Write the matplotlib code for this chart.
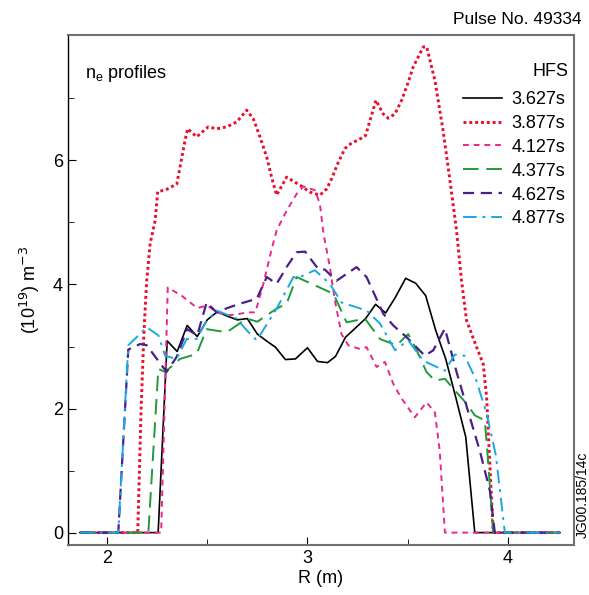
import matplotlib
matplotlib.use("Agg")
import matplotlib.pyplot as plt
from matplotlib.ticker import FixedLocator

plt.rcParams["font.family"] = ["Liberation Sans", "DejaVu Sans"]

# radius (m) and density (1e19 m^-3)
r_3627 = [1.865, 2.255, 2.30, 2.35, 2.40, 2.45, 2.50, 2.55, 2.60, 2.65, 2.70, 2.75, 2.80, 2.84,
          2.89, 2.94, 3.00, 3.05, 3.10, 3.14, 3.19, 3.24, 3.29, 3.34, 3.39, 3.44, 3.49, 3.54,
          3.59, 3.64, 3.69, 3.74, 3.79, 3.835, 4.26]
n_3627 = [0, 0, 3.09, 2.92, 3.34, 3.16, 3.43, 3.56, 3.49, 3.43, 3.45, 3.20, 3.08, 2.99,
          2.79, 2.80, 2.98, 2.76, 2.74, 2.84, 3.15, 3.30, 3.45, 3.68, 3.54, 3.80, 4.10, 4.02,
          3.82, 3.26, 2.80, 2.18, 1.54, 0, 0]

r_3877 = [1.865, 2.153, 2.17, 2.185, 2.198, 2.215, 2.24, 2.253, 2.29, 2.348, 2.364, 2.389, 2.402,
          2.447, 2.505, 2.547, 2.597, 2.647, 2.697, 2.73, 2.763, 2.797, 2.821, 2.846, 2.896,
          2.963, 3.012, 3.062, 3.096, 3.12, 3.154, 3.187, 3.22, 3.254, 3.29, 3.31, 3.342,
          3.378, 3.403, 3.437, 3.47, 3.503, 3.528, 3.578, 3.595, 3.636, 3.677, 3.711, 3.744,
          3.769, 3.794, 3.844, 3.877, 3.894, 3.91, 3.927, 4.26]
n_3877 = [0, 0, 2.0, 3.3, 4.06, 4.66, 5.03, 5.50, 5.52, 5.62, 5.89, 6.32, 6.51,
          6.38, 6.54, 6.51, 6.54, 6.62, 6.81, 6.67, 6.38, 6.05, 5.73, 5.44, 5.73,
          5.60, 5.49, 5.44, 5.54, 5.70, 5.97, 6.19, 6.28, 6.33, 6.40, 6.62, 6.97,
          6.75, 6.68, 6.75, 6.97, 7.26, 7.51, 7.83, 7.83, 7.29, 6.48, 5.68, 4.87,
          4.06, 3.42, 2.99, 2.72, 2.18, 1.11, 0, 0]

r_4127 = [1.865, 2.27, 2.303, 2.372, 2.45, 2.50, 2.55, 2.60, 2.65, 2.70, 2.74, 2.78, 2.82, 2.846,
          2.896, 2.946, 2.98, 3.037, 3.062, 3.08, 3.112, 3.137, 3.17, 3.204, 3.262, 3.295,
          3.345, 3.387, 3.428, 3.47, 3.536, 3.594, 3.636, 3.66, 3.686, 4.26]
n_4127 = [0, 0, 3.95, 3.82, 3.62, 3.66, 3.55, 3.50, 3.52, 3.55, 3.55, 4.01, 4.55, 4.87,
          5.19, 5.46, 5.58, 5.52, 5.30, 4.82, 4.28, 3.74, 3.20, 3.02, 2.96, 2.99,
          2.67, 2.75, 2.40, 2.16, 1.86, 2.10, 1.94, 1.32, 0, 0]

r_4377 = [1.865, 2.206, 2.256, 2.29, 2.364, 2.447, 2.497, 2.597, 2.697, 2.75, 2.846, 2.896,
          2.946, 3.13, 3.195, 3.287, 3.362, 3.445, 3.503, 3.545, 3.594, 3.636, 3.686,
          3.736, 3.794, 3.835, 3.885, 3.90, 3.927, 4.26]
n_4377 = [0, 0, 2.64, 2.59, 2.80, 2.88, 3.28, 3.23, 3.45, 3.40, 3.61, 3.69,
          4.12, 3.85, 3.39, 3.45, 3.12, 3.02, 3.20, 2.94, 2.59, 2.45, 2.48,
          2.29, 2.08, 1.89, 1.81, 1.21, 0, 0]

r_4627 = [1.865, 2.056, 2.106, 2.165, 2.198, 2.297, 2.347, 2.40, 2.45, 2.497, 2.547, 2.60,
          2.663, 2.747, 2.797, 2.846, 2.90, 2.946, 2.988, 3.054, 3.087, 3.145, 3.195, 3.245,
          3.295, 3.378, 3.428, 3.495, 3.586, 3.628, 3.686, 3.744, 3.803, 3.86, 3.91, 3.935, 4.26]
n_4627 = [0, 0, 2.95, 3.04, 3.02, 2.59, 2.83, 3.28, 3.18, 3.71, 3.55, 3.62,
          3.69, 3.77, 4.12, 4.01, 4.30, 4.52, 4.53, 4.25, 4.24, 4.06, 4.17, 4.28,
          4.12, 3.53, 3.34, 3.15, 2.85, 2.94, 3.29, 2.59, 1.94, 1.32, 0.68, 0, 0]

r_4877 = [1.865, 2.056, 2.106, 2.198, 2.256, 2.29, 2.347, 2.397, 2.447, 2.497, 2.547, 2.647,
          2.697, 2.747, 2.846, 2.93, 2.963, 3.037, 3.112, 3.17, 3.295, 3.362, 3.437, 3.503,
          3.578, 3.686, 3.735, 3.785, 3.844, 3.894, 3.94, 3.985, 4.26]
n_4877 = [0, 0, 3.02, 3.31, 3.18, 2.85, 2.80, 3.12, 3.12, 3.42, 3.58, 3.45,
          3.26, 3.10, 3.61, 4.12, 4.12, 4.23, 4.01, 3.71, 3.58, 3.37, 2.94, 3.10,
          2.77, 2.61, 2.87, 2.85, 2.44, 1.92, 1.25, 0, 0]

series = [
    ("3.627s", r_3627, n_3627, "black", "-", 1.2),
    ("3.877s", r_3877, n_3877, "#e8102e", (0, (1, 1)), 2.1),
    ("4.127s", r_4127, n_4127, "#e8288c", (0, (3, 2.5)), 1.4),
    ("4.377s", r_4377, n_4377, "#1f9a3c", (0, (8, 4)), 1.4),
    ("4.627s", r_4627, n_4627, "#4a1f8c", (0, (5, 3)), 1.6),
    ("4.877s", r_4877, n_4877, "#1aa8e0", (0, (7, 3, 1.5, 3)), 1.4),
]

fig = plt.figure(figsize=(5.89, 5.95), dpi=100)
ax = fig.add_axes([0.1154, 0.084, 0.8591, 0.857])

for label, r, n, col, ls, lw in series:
    ax.plot(r, n, color=col, linestyle=ls, linewidth=lw, label=label)

ax.set_xlim(1.805, 4.33)
ax.set_ylim(-0.2, 8.02)
ax.xaxis.set_major_locator(FixedLocator([2, 3, 4]))
ax.xaxis.set_minor_locator(FixedLocator([2.5, 3.5]))
ax.yaxis.set_major_locator(FixedLocator([0, 2, 4, 6]))
ax.yaxis.set_minor_locator(FixedLocator([1, 3, 5, 7]))
ax.tick_params(which="both", direction="in", labelsize=13)
ax.tick_params(which="major", length=6)
ax.tick_params(which="minor", length=4)
for s in ax.spines.values():
    s.set_color("#707070")
    s.set_linewidth(1.5)
ax.spines["left"].set_color("black")
ax.spines["left"].set_linewidth(1.0)

ax.set_xlabel("R (m)", fontsize=13, labelpad=2)
ax.set_ylabel("(10$^{19}$) m$^{-3}$", fontsize=13, labelpad=8)

ax.text(0.033, 0.945, "n$_{\\mathregular{e}}$ profiles", transform=ax.transAxes,
        fontsize=13, ha="left", va="top")
ax.text(0.99, 0.945, "HFS", transform=ax.transAxes, fontsize=13, ha="right", va="top")
fig.text(0.988, 0.955, "Pulse No. 49334", fontsize=12.5, ha="right", va="bottom")
fig.text(0.99, 0.095, "JG00.185/14c", fontsize=10, rotation=90, ha="center", va="bottom")

leg = ax.legend(loc="upper right", bbox_to_anchor=(1.008, 0.915), frameon=False,
                fontsize=13, handlelength=2.2, handletextpad=0.5,
                labelspacing=0.38, borderaxespad=0.3)

fig.savefig("out.png", dpi=100)
